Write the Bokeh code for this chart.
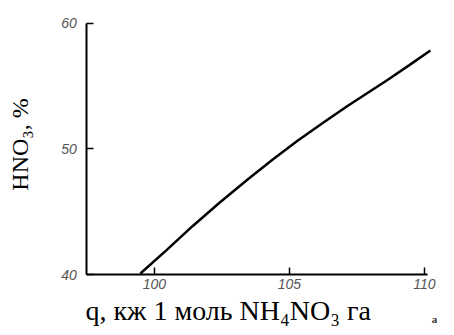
import math
from bokeh.plotting import figure
from bokeh.models import Range1d, FixedTicker, Label
from bokeh.embed import file_html
from bokeh.resources import INLINE

# data
q_values = [99.48, 100.48, 101.41, 102.41, 103.44, 104.37, 105.30, 106.22, 107.15, 108.63, 109.44, 110.22]
hno3_values = [40.08, 42.0, 43.85, 45.72, 47.55, 49.15, 50.65, 52.05, 53.42, 55.5, 56.68, 57.85]
x_ticks = [100, 105, 110]
y_ticks = [40, 50, 60]
x_axis_bounds = (97.5, 110.12)
y_axis_bounds = (40, 60)

x_title = "q, кж 1 моль NH\u2084NO\u2083 га"
y_title = "HNO\u2083, %"
corner_mark = "а"

p = figure(width=438, height=327, output_backend="svg", toolbar_location=None,
           x_range=Range1d(94.30, 110.52), y_range=Range1d(35.78, 61.83),
           min_border_left=0, min_border_right=0, min_border_top=0,
           min_border_bottom=0)
p.outline_line_color = None
p.xgrid.visible = False
p.ygrid.visible = False
p.background_fill_color = "white"

p.line(q_values, hno3_values, line_color="black", line_width=2.5)

for ax in (p.xaxis[0], p.yaxis[0]):
    ax.axis_line_color = "black"
    ax.axis_line_width = 2
    ax.major_tick_line_color = "black"
    ax.major_tick_line_width = 1.5
    ax.major_tick_in = 7
    ax.major_tick_out = 0
    ax.minor_tick_line_color = None
    ax.major_label_text_font = "Liberation Sans"
    ax.major_label_text_font_style = "italic"
    ax.major_label_text_font_size = "14px"
    ax.major_label_text_color = "#555555"

p.xaxis.ticker = FixedTicker(ticks=x_ticks)
p.yaxis.ticker = FixedTicker(ticks=y_ticks)
p.xaxis.fixed_location = y_axis_bounds[0]
p.yaxis.fixed_location = x_axis_bounds[0]
p.xaxis.bounds = x_axis_bounds
p.yaxis.bounds = y_axis_bounds
p.xaxis.major_label_standoff = 4
p.yaxis.major_label_standoff = 10

p.add_layout(Label(x=19, y=183, x_units="screen", y_units="screen",
                   text=y_title, angle=math.pi / 2, text_font="Liberation Serif",
                   text_font_style="normal", text_font_size="24px",
                   text_color="black", text_align="center",
                   text_baseline="middle"))

p.add_layout(Label(x=85, y=17, x_units="screen", y_units="screen",
                   text=x_title, text_font="Liberation Serif",
                   text_font_style="normal", text_font_size="28px",
                   text_color="black", text_align="left",
                   text_baseline="middle"))

p.add_layout(Label(x=434, y=9, x_units="screen", y_units="screen",
                   text=corner_mark, text_font="Liberation Serif",
                   text_font_style="bold", text_font_size="11px",
                   text_color="#333333", text_align="center",
                   text_baseline="middle"))

open("out.html", "w").write(file_html(p, INLINE))
